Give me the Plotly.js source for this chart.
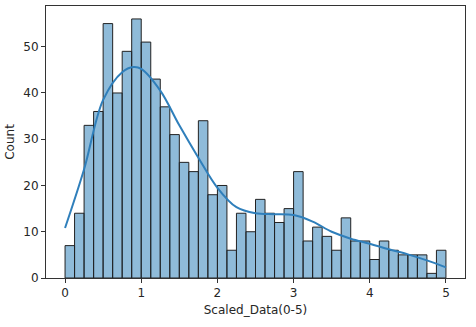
<!DOCTYPE html>
<html>
<head>
<meta charset="utf-8">
<script src="https://cdn.plot.ly/plotly-3.0.1.min.js"></script>
<style>
html,body{margin:0;padding:0;background:#fff;}
#chart{width:476px;height:327px;}
</style>
</head>
<body>
<div id="chart"></div>
<script>
// Histogram bin edges (left edges) and counts, 40 bins over 0..5
const binWidth = 0.125;
const binLeft = [0,0.125,0.25,0.375,0.5,0.625,0.75,0.875,1,1.125,1.25,1.375,1.5,1.625,1.75,1.875,2,2.125,2.25,2.375,
                 2.5,2.625,2.75,2.875,3,3.125,3.25,3.375,3.5,3.625,3.75,3.875,4,4.125,4.25,4.375,4.5,4.625,4.75,4.875];
const counts = [7,14,33,36,55,40,49,56,51,43,37,31,25,23,34,18,20,6,14,10,
                17,14,12,15,23,8,11,9,6,13,8,8,4,8,6,5,5,5,1,6];

// KDE curve
const kdeX = [0,0.25,0.5,0.75,0.9,1.0,1.25,1.5,1.75,2.0,2.25,2.5,2.75,3.0,3.25,3.5,3.75,4.0,4.25,4.5,4.75,5.0];
const kdeY = [10.8,23.5,38.5,44.5,45.6,45.2,40.5,33,26,19.5,15.3,14,13.8,13.6,12.2,10,8.5,7.4,6.2,5.1,3.8,2.3];

const xTicks = [0,1,2,3,4,5];
const yTicks = [0,10,20,30,40,50];

const barTrace = {
  type: 'bar',
  x: binLeft.map(v => v + binWidth/2),
  y: counts,
  width: binWidth,
  marker: {color: 'rgba(31,119,180,0.5)', line: {color: '#222', width: 1}},
  hoverinfo: 'skip'
};
const kdeTrace = {
  type: 'scatter', mode: 'lines',
  x: kdeX, y: kdeY,
  line: {color: '#2f7fbb', width: 2, shape: 'spline', smoothing: 1},
  hoverinfo: 'skip'
};

const font = {family: 'DejaVu Sans', size: 12, color: '#262626'};
const layout = {
  width: 476, height: 327,
  margin: {l: 45.5, r: 11, t: 6, b: 48.5},
  paper_bgcolor: '#fff', plot_bgcolor: '#fff',
  showlegend: false,
  bargap: 0,
  font: font,
  xaxis: {
    range: [-0.25, 5.25], tickvals: xTicks, ticktext: xTicks.map(String),
    showgrid: false, zeroline: false,
    showline: true, mirror: true, linecolor: '#333', linewidth: 1,
    ticks: 'outside', ticklen: 4, tickcolor: '#333',
    tickfont: font,
    title: {text: 'Scaled_Data(0-5)', font: font, standoff: 6}
  },
  yaxis: {
    range: [0, 58.8], tickvals: yTicks, ticktext: yTicks.map(String),
    showgrid: false, zeroline: false,
    showline: true, mirror: true, linecolor: '#333', linewidth: 1,
    ticks: 'outside', ticklen: 4, tickcolor: '#333',
    tickfont: font,
    title: {text: 'Count', font: font, standoff: 6}
  }
};
Plotly.newPlot('chart', [barTrace, kdeTrace], layout, {displayModeBar: false, staticPlot: true});
</script>
</body>
</html>
